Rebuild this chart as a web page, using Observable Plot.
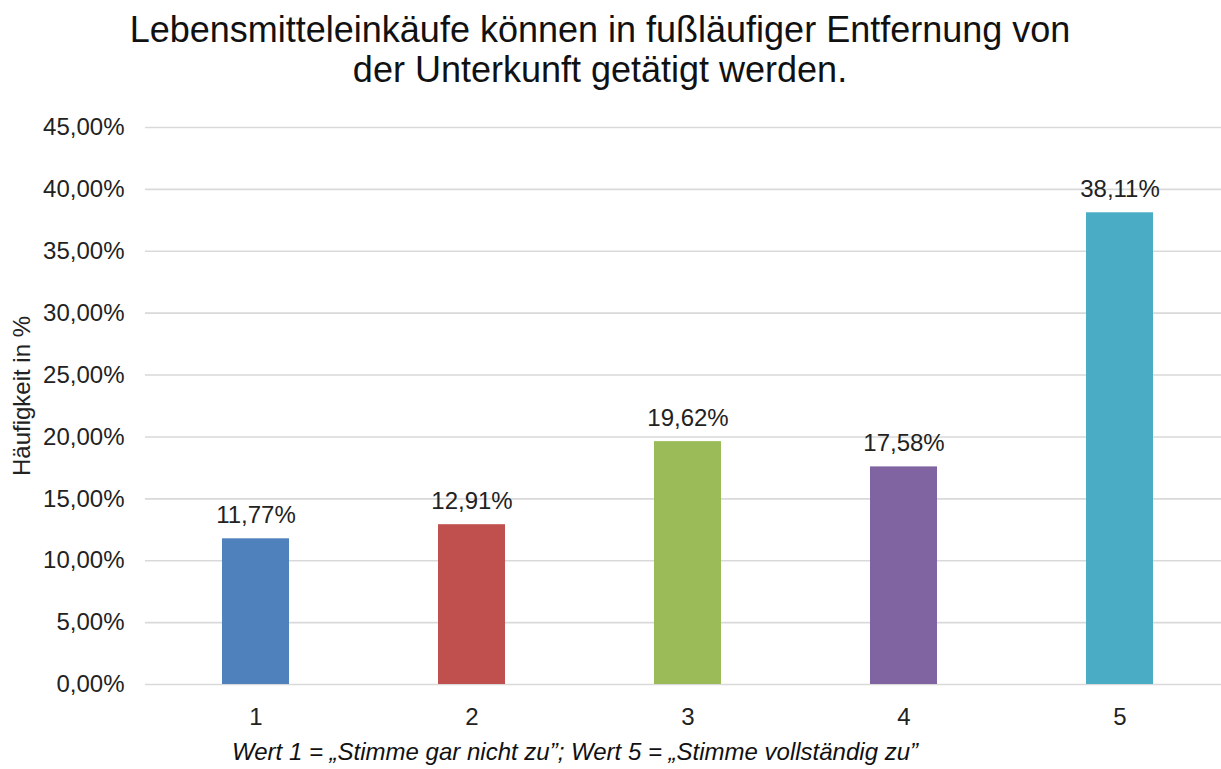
<!DOCTYPE html>
<html>
<head>
<meta charset="utf-8">
<script src="https://cdn.jsdelivr.net/npm/d3@7"></script>
<script src="https://cdn.jsdelivr.net/npm/@observablehq/plot@0.6"></script>
<style>
  html, body { margin: 0; padding: 0; background: #fff; }
  body { width: 1221px; height: 769px; overflow: hidden; font-family: "Liberation Sans", Arial, sans-serif; color: #000; }
  #title { width: 1200px; height: 100px; padding-top: 10px; text-align: center; font-size: 36px; line-height: 40px; color: #111; white-space: nowrap; }
  #chart svg { display: block; }
  #caption { padding-left: 232px; font-size: 24px; line-height: 34px; font-style: italic; color: #111; white-space: nowrap; }
</style>
</head>
<body>
<div id="title">Lebensmitteleinkäufe können in fußläufiger Entfernung von<br>der Unterkunft getätigt werden.</div>
<div id="chart"></div>
<div id="caption">Wert 1 = „Stimme gar nicht zu”; Wert 5 = „Stimme vollständig zu”</div>
<script>
const categories = ["1", "2", "3", "4", "5"];
const values = [11.77, 12.91, 19.62, 17.58, 38.11];
const valueLabels = ["11,77%", "12,91%", "19,62%", "17,58%", "38,11%"];
const yTicks = [0, 5, 10, 15, 20, 25, 30, 35, 40, 45];
const yTickLabels = ["0,00%", "5,00%", "10,00%", "15,00%", "20,00%", "25,00%", "30,00%", "35,00%", "40,00%", "45,00%"];
const colors = ["#4F81BD", "#C0504D", "#9BBB59", "#8064A2", "#4BACC6"];
const yLabel = "Häufigkeit in %";

const data = categories.map((c, i) => ({cat: c, value: values[i], label: valueLabels[i]}));

const chart = Plot.plot({
  width: 1221,
  height: 625,
  marginTop: 17,
  marginBottom: 51,
  marginLeft: 145,
  marginRight: 0,
  style: {fontFamily: "'Liberation Sans', Arial, sans-serif", fontSize: "24px", color: "#222", background: "#fff"},
  x: {domain: categories, paddingInner: 0.691, paddingOuter: 0.328, align: 0.528, label: null},
  y: {domain: [0, 45], label: null},
  color: {domain: categories, range: colors},
  marks: [
    Plot.ruleY(yTicks, {stroke: "#d9d9d9", strokeWidth: 1.6}),
    Plot.barY(data, {x: "cat", y: "value", fill: "cat"}),
    Plot.text(data, {x: "cat", y: "value", text: "label", lineAnchor: "bottom", dy: -16, fontSize: 24, fill: "#222"}),
    Plot.axisY(yTicks, {tickSize: 0, tickPadding: 21, tickFormat: (d) => yTickLabels[yTicks.indexOf(d)], fontSize: 24, label: null}),
    Plot.axisX({tickSize: 0, tickPadding: 23, fontSize: 24, label: null}),
    Plot.text([yLabel], {frameAnchor: "left", textAnchor: "middle", rotate: -90, dx: -123, dy: -10, fontSize: 24, fill: "#222"})
  ]
});
document.getElementById("chart").appendChild(chart);
</script>
</body>
</html>
